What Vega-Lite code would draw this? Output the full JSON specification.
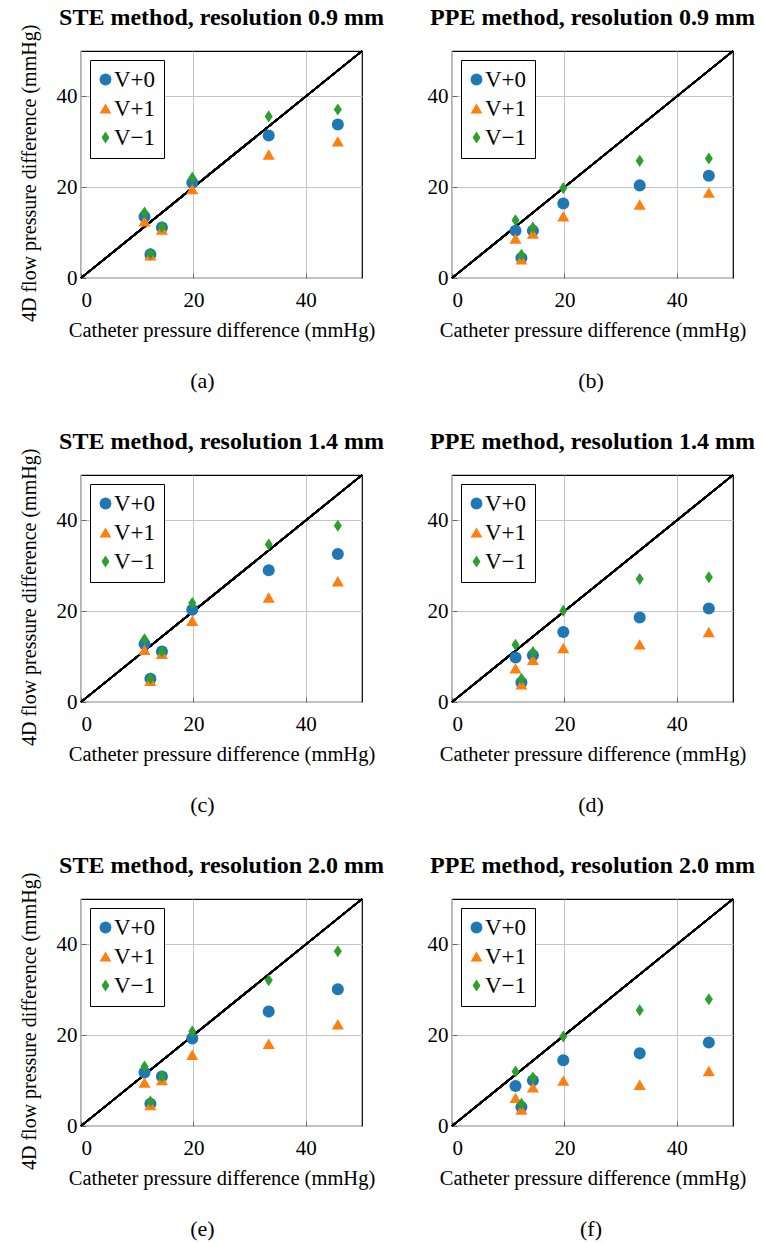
{
  "$schema": "https://vega.github.io/schema/vega-lite/v6.json",
  "padding": {"left": 20, "top": 5, "right": 0, "bottom": 5},
  "background": "white",
  "datasets": {
    "pts": [
      {"p":"a","s":"V+0","x":11.3,"y":13.5},{"p":"a","s":"V+0","x":12.35,"y":5.2},{"p":"a","s":"V+0","x":14.4,"y":11.1},{"p":"a","s":"V+0","x":19.8,"y":21.0},{"p":"a","s":"V+0","x":33.4,"y":31.4},{"p":"a","s":"V+0","x":45.7,"y":33.8},
      {"p":"a","s":"V+1","x":11.3,"y":12.5},{"p":"a","s":"V+1","x":12.35,"y":5.0},{"p":"a","s":"V+1","x":14.4,"y":10.7},{"p":"a","s":"V+1","x":19.8,"y":19.6},{"p":"a","s":"V+1","x":33.4,"y":27.2},{"p":"a","s":"V+1","x":45.7,"y":30.1},
      {"p":"a","s":"V−1","x":11.3,"y":14.4},{"p":"a","s":"V−1","x":12.35,"y":5.4},{"p":"a","s":"V−1","x":14.4,"y":11.3},{"p":"a","s":"V−1","x":19.8,"y":22.1},{"p":"a","s":"V−1","x":33.4,"y":35.6},{"p":"a","s":"V−1","x":45.7,"y":37.1},
      {"p":"b","s":"V+0","x":11.3,"y":10.4},{"p":"b","s":"V+0","x":12.35,"y":4.4},{"p":"b","s":"V+0","x":14.4,"y":10.4},{"p":"b","s":"V+0","x":19.8,"y":16.4},{"p":"b","s":"V+0","x":33.4,"y":20.4},{"p":"b","s":"V+0","x":45.7,"y":22.5},
      {"p":"b","s":"V+1","x":11.3,"y":8.7},{"p":"b","s":"V+1","x":12.35,"y":4.1},{"p":"b","s":"V+1","x":14.4,"y":9.8},{"p":"b","s":"V+1","x":19.8,"y":13.6},{"p":"b","s":"V+1","x":33.4,"y":16.2},{"p":"b","s":"V+1","x":45.7,"y":18.8},
      {"p":"b","s":"V−1","x":11.3,"y":12.7},{"p":"b","s":"V−1","x":12.35,"y":5.1},{"p":"b","s":"V−1","x":14.4,"y":11.1},{"p":"b","s":"V−1","x":19.8,"y":19.8},{"p":"b","s":"V−1","x":33.4,"y":25.8},{"p":"b","s":"V−1","x":45.7,"y":26.3},
      {"p":"c","s":"V+0","x":11.3,"y":12.8},{"p":"c","s":"V+0","x":12.35,"y":5.1},{"p":"c","s":"V+0","x":14.4,"y":11.1},{"p":"c","s":"V+0","x":19.8,"y":20.3},{"p":"c","s":"V+0","x":33.4,"y":29.0},{"p":"c","s":"V+0","x":45.7,"y":32.6},
      {"p":"c","s":"V+1","x":11.3,"y":11.5},{"p":"c","s":"V+1","x":12.35,"y":4.7},{"p":"c","s":"V+1","x":14.4,"y":10.6},{"p":"c","s":"V+1","x":19.8,"y":17.9},{"p":"c","s":"V+1","x":33.4,"y":23.0},{"p":"c","s":"V+1","x":45.7,"y":26.6},
      {"p":"c","s":"V−1","x":11.3,"y":13.8},{"p":"c","s":"V−1","x":12.35,"y":5.2},{"p":"c","s":"V−1","x":14.4,"y":11.2},{"p":"c","s":"V−1","x":19.8,"y":21.8},{"p":"c","s":"V−1","x":33.4,"y":34.7},{"p":"c","s":"V−1","x":45.7,"y":38.8},
      {"p":"d","s":"V+0","x":11.3,"y":9.8},{"p":"d","s":"V+0","x":12.35,"y":4.3},{"p":"d","s":"V+0","x":14.4,"y":10.3},{"p":"d","s":"V+0","x":19.8,"y":15.4},{"p":"d","s":"V+0","x":33.4,"y":18.6},{"p":"d","s":"V+0","x":45.7,"y":20.6},
      {"p":"d","s":"V+1","x":11.3,"y":7.4},{"p":"d","s":"V+1","x":12.35,"y":3.9},{"p":"d","s":"V+1","x":14.4,"y":9.3},{"p":"d","s":"V+1","x":19.8,"y":11.9},{"p":"d","s":"V+1","x":33.4,"y":12.7},{"p":"d","s":"V+1","x":45.7,"y":15.4},
      {"p":"d","s":"V−1","x":11.3,"y":12.6},{"p":"d","s":"V−1","x":12.35,"y":5.1},{"p":"d","s":"V−1","x":14.4,"y":11.0},{"p":"d","s":"V−1","x":19.8,"y":20.1},{"p":"d","s":"V−1","x":33.4,"y":27.1},{"p":"d","s":"V−1","x":45.7,"y":27.5},
      {"p":"e","s":"V+0","x":11.3,"y":11.8},{"p":"e","s":"V+0","x":12.35,"y":4.9},{"p":"e","s":"V+0","x":14.4,"y":10.9},{"p":"e","s":"V+0","x":19.8,"y":19.3},{"p":"e","s":"V+0","x":33.4,"y":25.2},{"p":"e","s":"V+0","x":45.7,"y":30.1},
      {"p":"e","s":"V+1","x":11.3,"y":9.6},{"p":"e","s":"V+1","x":12.35,"y":4.6},{"p":"e","s":"V+1","x":14.4,"y":10.1},{"p":"e","s":"V+1","x":19.8,"y":15.7},{"p":"e","s":"V+1","x":33.4,"y":18.1},{"p":"e","s":"V+1","x":45.7,"y":22.4},
      {"p":"e","s":"V−1","x":11.3,"y":13.1},{"p":"e","s":"V−1","x":12.35,"y":5.4},{"p":"e","s":"V−1","x":14.4,"y":10.9},{"p":"e","s":"V−1","x":19.8,"y":20.8},{"p":"e","s":"V−1","x":33.4,"y":32.1},{"p":"e","s":"V−1","x":45.7,"y":38.5},
      {"p":"f","s":"V+0","x":11.3,"y":8.8},{"p":"f","s":"V+0","x":12.35,"y":4.2},{"p":"f","s":"V+0","x":14.4,"y":10.0},{"p":"f","s":"V+0","x":19.8,"y":14.5},{"p":"f","s":"V+0","x":33.4,"y":16.0},{"p":"f","s":"V+0","x":45.7,"y":18.4},
      {"p":"f","s":"V+1","x":11.3,"y":6.2},{"p":"f","s":"V+1","x":12.35,"y":3.6},{"p":"f","s":"V+1","x":14.4,"y":8.5},{"p":"f","s":"V+1","x":19.8,"y":10.0},{"p":"f","s":"V+1","x":33.4,"y":9.1},{"p":"f","s":"V+1","x":45.7,"y":12.1},
      {"p":"f","s":"V−1","x":11.3,"y":12.0},{"p":"f","s":"V−1","x":12.35,"y":4.9},{"p":"f","s":"V−1","x":14.4,"y":10.7},{"p":"f","s":"V−1","x":19.8,"y":19.7},{"p":"f","s":"V−1","x":33.4,"y":25.5},{"p":"f","s":"V−1","x":45.7,"y":27.9}
    ]
  },
  "resolve": {"scale": {"color": "independent", "shape": "independent"}, "legend": {"color": "independent", "shape": "independent"}},
  "spacing": 36,
  "vconcat": [
    {
      "spacing": 41,
      "resolve": {"scale": {"color": "independent", "shape": "independent"}, "legend": {"color": "independent", "shape": "independent"}},
      "hconcat": [
        {"title": {"text": "(a)", "orient": "bottom", "fontWeight": "normal", "fontSize": 22, "offset": 30},
         "resolve": {"scale": {"color": "independent", "shape": "independent"}, "legend": {"color": "independent", "shape": "independent"}},
         "vconcat": [{
          "title": {"text": "4D flow pressure difference (mmHg)", "orient": "left", "fontWeight": "normal", "fontSize": 20, "offset": 15, "frame": "bounds"},
          "resolve": {"scale": {"color": "independent", "shape": "independent"}, "legend": {"color": "independent", "shape": "independent"}},
          "vconcat": [{
          "width": 281, "height": 227,
          "title": "STE method, resolution 0.9 mm",
          "data": {"name": "pts"}, "transform": [{"filter": "datum.p === 'a'"}],
          "layer": [
            {"mark": {"type": "rule", "color": "black", "strokeWidth": 1.6}, "encoding": {"x": {"datum": 0, "type": "quantitative"}, "y": {"datum": 0, "type": "quantitative"}, "x2": {"datum": 50}, "y2": {"datum": 50}}},
            {"mark": {"type": "point", "filled": true, "opacity": 1, "size": 145},
             "encoding": {
               "x": {"field": "x", "type": "quantitative", "scale": {"domain": [0, 50], "nice": false}, "axis": {"values": [0, 20, 40], "title": "Catheter pressure difference (mmHg)"}},
               "y": {"field": "y", "type": "quantitative", "scale": {"domain": [0, 50], "nice": false}, "axis": {"values": [0, 20, 40], "title": null}},
               "color": {"field": "s", "type": "nominal", "scale": {"domain": ["V+0", "V+1", "V−1"], "range": ["#1f77b4", "#ff7f0e", "#2ca02c"]}, "legend": {"title": null, "labelExpr": "datum.label + '  '"}},
               "shape": {"field": "s", "type": "nominal", "scale": {"domain": ["V+0", "V+1", "V−1"], "range": ["circle", "triangle-up", "M0,-1L0.67,0L0,1L-0.67,0Z"]}, "legend": {"title": null, "labelExpr": "datum.label + '  '"}}
             }}
          ]
        }]}]},
        {"title": {"text": "(b)", "orient": "bottom", "fontWeight": "normal", "fontSize": 22, "offset": 30},
         "resolve": {"scale": {"color": "independent", "shape": "independent"}, "legend": {"color": "independent", "shape": "independent"}},
         "vconcat": [{
          "width": 281, "height": 227,
          "title": "PPE method, resolution 0.9 mm",
          "data": {"name": "pts"}, "transform": [{"filter": "datum.p === 'b'"}],
          "layer": [
            {"mark": {"type": "rule", "color": "black", "strokeWidth": 1.6}, "encoding": {"x": {"datum": 0, "type": "quantitative"}, "y": {"datum": 0, "type": "quantitative"}, "x2": {"datum": 50}, "y2": {"datum": 50}}},
            {"mark": {"type": "point", "filled": true, "opacity": 1, "size": 145},
             "encoding": {
               "x": {"field": "x", "type": "quantitative", "scale": {"domain": [0, 50], "nice": false}, "axis": {"values": [0, 20, 40], "title": "Catheter pressure difference (mmHg)"}},
               "y": {"field": "y", "type": "quantitative", "scale": {"domain": [0, 50], "nice": false}, "axis": {"values": [0, 20, 40], "title": null}},
               "color": {"field": "s", "type": "nominal", "scale": {"domain": ["V+0", "V+1", "V−1"], "range": ["#1f77b4", "#ff7f0e", "#2ca02c"]}, "legend": {"title": null, "labelExpr": "datum.label + '  '"}},
               "shape": {"field": "s", "type": "nominal", "scale": {"domain": ["V+0", "V+1", "V−1"], "range": ["circle", "triangle-up", "M0,-1L0.67,0L0,1L-0.67,0Z"]}, "legend": {"title": null, "labelExpr": "datum.label + '  '"}}
             }}
          ]
        }]}
      ]
    },
    {
      "spacing": 41,
      "resolve": {"scale": {"color": "independent", "shape": "independent"}, "legend": {"color": "independent", "shape": "independent"}},
      "hconcat": [
        {"title": {"text": "(c)", "orient": "bottom", "fontWeight": "normal", "fontSize": 22, "offset": 30},
         "resolve": {"scale": {"color": "independent", "shape": "independent"}, "legend": {"color": "independent", "shape": "independent"}},
         "vconcat": [{
          "title": {"text": "4D flow pressure difference (mmHg)", "orient": "left", "fontWeight": "normal", "fontSize": 20, "offset": 15, "frame": "bounds"},
          "resolve": {"scale": {"color": "independent", "shape": "independent"}, "legend": {"color": "independent", "shape": "independent"}},
          "vconcat": [{
          "width": 281, "height": 227,
          "title": "STE method, resolution 1.4 mm",
          "data": {"name": "pts"}, "transform": [{"filter": "datum.p === 'c'"}],
          "layer": [
            {"mark": {"type": "rule", "color": "black", "strokeWidth": 1.6}, "encoding": {"x": {"datum": 0, "type": "quantitative"}, "y": {"datum": 0, "type": "quantitative"}, "x2": {"datum": 50}, "y2": {"datum": 50}}},
            {"mark": {"type": "point", "filled": true, "opacity": 1, "size": 145},
             "encoding": {
               "x": {"field": "x", "type": "quantitative", "scale": {"domain": [0, 50], "nice": false}, "axis": {"values": [0, 20, 40], "title": "Catheter pressure difference (mmHg)"}},
               "y": {"field": "y", "type": "quantitative", "scale": {"domain": [0, 50], "nice": false}, "axis": {"values": [0, 20, 40], "title": null}},
               "color": {"field": "s", "type": "nominal", "scale": {"domain": ["V+0", "V+1", "V−1"], "range": ["#1f77b4", "#ff7f0e", "#2ca02c"]}, "legend": {"title": null, "labelExpr": "datum.label + '  '"}},
               "shape": {"field": "s", "type": "nominal", "scale": {"domain": ["V+0", "V+1", "V−1"], "range": ["circle", "triangle-up", "M0,-1L0.67,0L0,1L-0.67,0Z"]}, "legend": {"title": null, "labelExpr": "datum.label + '  '"}}
             }}
          ]
        }]}]},
        {"title": {"text": "(d)", "orient": "bottom", "fontWeight": "normal", "fontSize": 22, "offset": 30},
         "resolve": {"scale": {"color": "independent", "shape": "independent"}, "legend": {"color": "independent", "shape": "independent"}},
         "vconcat": [{
          "width": 281, "height": 227,
          "title": "PPE method, resolution 1.4 mm",
          "data": {"name": "pts"}, "transform": [{"filter": "datum.p === 'd'"}],
          "layer": [
            {"mark": {"type": "rule", "color": "black", "strokeWidth": 1.6}, "encoding": {"x": {"datum": 0, "type": "quantitative"}, "y": {"datum": 0, "type": "quantitative"}, "x2": {"datum": 50}, "y2": {"datum": 50}}},
            {"mark": {"type": "point", "filled": true, "opacity": 1, "size": 145},
             "encoding": {
               "x": {"field": "x", "type": "quantitative", "scale": {"domain": [0, 50], "nice": false}, "axis": {"values": [0, 20, 40], "title": "Catheter pressure difference (mmHg)"}},
               "y": {"field": "y", "type": "quantitative", "scale": {"domain": [0, 50], "nice": false}, "axis": {"values": [0, 20, 40], "title": null}},
               "color": {"field": "s", "type": "nominal", "scale": {"domain": ["V+0", "V+1", "V−1"], "range": ["#1f77b4", "#ff7f0e", "#2ca02c"]}, "legend": {"title": null, "labelExpr": "datum.label + '  '"}},
               "shape": {"field": "s", "type": "nominal", "scale": {"domain": ["V+0", "V+1", "V−1"], "range": ["circle", "triangle-up", "M0,-1L0.67,0L0,1L-0.67,0Z"]}, "legend": {"title": null, "labelExpr": "datum.label + '  '"}}
             }}
          ]
        }]}
      ]
    },
    {
      "spacing": 41,
      "resolve": {"scale": {"color": "independent", "shape": "independent"}, "legend": {"color": "independent", "shape": "independent"}},
      "hconcat": [
        {"title": {"text": "(e)", "orient": "bottom", "fontWeight": "normal", "fontSize": 22, "offset": 30},
         "resolve": {"scale": {"color": "independent", "shape": "independent"}, "legend": {"color": "independent", "shape": "independent"}},
         "vconcat": [{
          "title": {"text": "4D flow pressure difference (mmHg)", "orient": "left", "fontWeight": "normal", "fontSize": 20, "offset": 15, "frame": "bounds"},
          "resolve": {"scale": {"color": "independent", "shape": "independent"}, "legend": {"color": "independent", "shape": "independent"}},
          "vconcat": [{
          "width": 281, "height": 227,
          "title": "STE method, resolution 2.0 mm",
          "data": {"name": "pts"}, "transform": [{"filter": "datum.p === 'e'"}],
          "layer": [
            {"mark": {"type": "rule", "color": "black", "strokeWidth": 1.6}, "encoding": {"x": {"datum": 0, "type": "quantitative"}, "y": {"datum": 0, "type": "quantitative"}, "x2": {"datum": 50}, "y2": {"datum": 50}}},
            {"mark": {"type": "point", "filled": true, "opacity": 1, "size": 145},
             "encoding": {
               "x": {"field": "x", "type": "quantitative", "scale": {"domain": [0, 50], "nice": false}, "axis": {"values": [0, 20, 40], "title": "Catheter pressure difference (mmHg)"}},
               "y": {"field": "y", "type": "quantitative", "scale": {"domain": [0, 50], "nice": false}, "axis": {"values": [0, 20, 40], "title": null}},
               "color": {"field": "s", "type": "nominal", "scale": {"domain": ["V+0", "V+1", "V−1"], "range": ["#1f77b4", "#ff7f0e", "#2ca02c"]}, "legend": {"title": null, "labelExpr": "datum.label + '  '"}},
               "shape": {"field": "s", "type": "nominal", "scale": {"domain": ["V+0", "V+1", "V−1"], "range": ["circle", "triangle-up", "M0,-1L0.67,0L0,1L-0.67,0Z"]}, "legend": {"title": null, "labelExpr": "datum.label + '  '"}}
             }}
          ]
        }]}]},
        {"title": {"text": "(f)", "orient": "bottom", "fontWeight": "normal", "fontSize": 22, "offset": 30},
         "resolve": {"scale": {"color": "independent", "shape": "independent"}, "legend": {"color": "independent", "shape": "independent"}},
         "vconcat": [{
          "width": 281, "height": 227,
          "title": "PPE method, resolution 2.0 mm",
          "data": {"name": "pts"}, "transform": [{"filter": "datum.p === 'f'"}],
          "layer": [
            {"mark": {"type": "rule", "color": "black", "strokeWidth": 1.6}, "encoding": {"x": {"datum": 0, "type": "quantitative"}, "y": {"datum": 0, "type": "quantitative"}, "x2": {"datum": 50}, "y2": {"datum": 50}}},
            {"mark": {"type": "point", "filled": true, "opacity": 1, "size": 145},
             "encoding": {
               "x": {"field": "x", "type": "quantitative", "scale": {"domain": [0, 50], "nice": false}, "axis": {"values": [0, 20, 40], "title": "Catheter pressure difference (mmHg)"}},
               "y": {"field": "y", "type": "quantitative", "scale": {"domain": [0, 50], "nice": false}, "axis": {"values": [0, 20, 40], "title": null}},
               "color": {"field": "s", "type": "nominal", "scale": {"domain": ["V+0", "V+1", "V−1"], "range": ["#1f77b4", "#ff7f0e", "#2ca02c"]}, "legend": {"title": null, "labelExpr": "datum.label + '  '"}},
               "shape": {"field": "s", "type": "nominal", "scale": {"domain": ["V+0", "V+1", "V−1"], "range": ["circle", "triangle-up", "M0,-1L0.67,0L0,1L-0.67,0Z"]}, "legend": {"title": null, "labelExpr": "datum.label + '  '"}}
             }}
          ]
        }]}
      ]
    }
  ],
  "config": {
    "font": "Liberation Serif",
    "view": {"stroke": "black", "strokeWidth": 1.2},
    "title": {"font": "Liberation Serif", "fontSize": 24, "fontWeight": "bold", "color": "black", "anchor": "middle", "offset": 20},
    "axis": {
      "labelFont": "Liberation Serif", "labelFontSize": 21, "labelColor": "black",
      "titleFont": "Liberation Serif", "titleFontSize": 20.5, "titleFontWeight": "normal", "titleColor": "black",
      "grid": true, "gridColor": "#c4c4c4", "gridWidth": 1, "domain": false,
      "ticks": true, "tickSize": -5, "tickColor": "#666", "tickWidth": 1
    },
    "axisX": {"labelPadding": 16, "titlePadding": 10},
    "axisY": {"labelPadding": 9},
    "legend": {
      "orient": "top-left", "offset": 9, "padding": 8,
      "strokeColor": "black", "fillColor": "white",
      "labelFont": "Liberation Serif", "labelFontSize": 23, "labelColor": "black",
      "symbolSize": 140, "symbolOpacity": 1, "rowPadding": 5, "labelOffset": -3, "symbolOffset": -4,
      "symbolStrokeWidth": 0
    }
  }
}
